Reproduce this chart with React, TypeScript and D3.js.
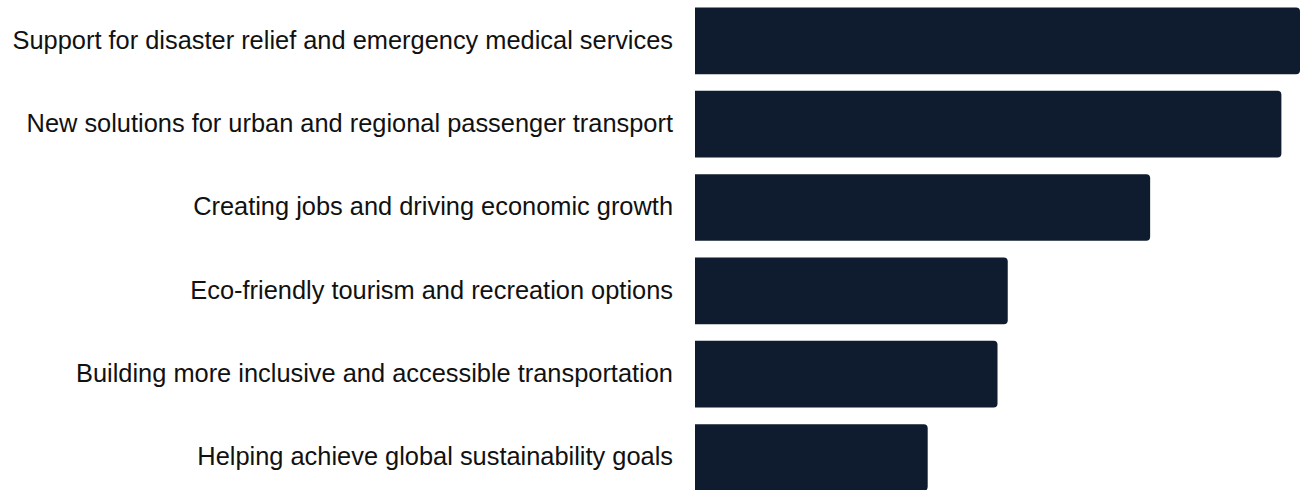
import React from "react";
import * as d3 from "d3";

const categories = [
  "Support for disaster relief and emergency medical services",
  "New solutions for urban and regional passenger transport",
  "Creating jobs and driving economic growth",
  "Eco-friendly tourism and recreation options",
  "Building more inclusive and accessible transportation",
  "Helping achieve global sustainability goals",
];
const values = [65, 63, 48.9, 33.6, 32.5, 25];

const W = 1301;
const H = 490;

export default function App() {
  const x = d3.scaleLinear().domain([0, 65]).range([695, 1300]);
  const y = d3
    .scaleBand<string>()
    .domain(categories)
    .range([-0.83, 499.2])
    .paddingInner(0.2)
    .paddingOuter(0.1);
  const r = 4;
  const barPath = (x0: number, x1: number, y0: number, h: number) => {
    const p = d3.path();
    p.moveTo(x0, y0);
    p.lineTo(x1 - r, y0);
    p.arcTo(x1, y0, x1, y0 + r, r);
    p.lineTo(x1, y0 + h - r);
    p.arcTo(x1, y0 + h, x1 - r, y0 + h, r);
    p.lineTo(x0, y0 + h);
    p.closePath();
    return p.toString();
  };
  return (
    <svg
      width={W}
      height={H}
      style={{ position: "absolute", left: 0, top: 0, display: "block" }}
    >
      {categories.map((c, i) => {
        const y0 = y(c)!;
        const h = y.bandwidth();
        return (
          <g key={c}>
            <path d={barPath(x(0), x(values[i]), y0, h)} fill="#0f1b2e" />
            <text
              x={x(0) - 22}
              y={y0 + h / 2}
              dy="0.31em"
              textAnchor="end"
              fontFamily="'Liberation Sans', Arial, Helvetica, sans-serif"
              fontSize={25.4}
              fill="#111111"
            >
              {c}
            </text>
          </g>
        );
      })}
    </svg>
  );
}
